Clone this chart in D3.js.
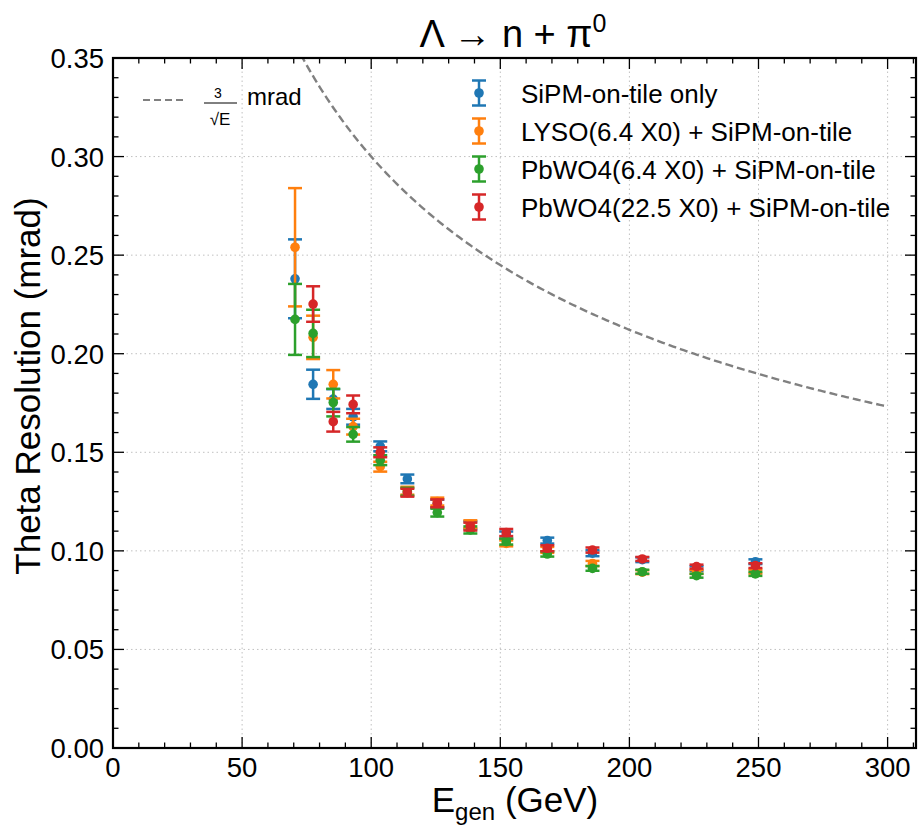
<!DOCTYPE html>
<html><head><meta charset="utf-8">
<script src="https://cdn.jsdelivr.net/npm/d3@7"></script>
<style>body{margin:0;background:#fff;} text{font-family:"Liberation Sans",Arial,sans-serif;}</style>
</head><body><svg id="c" width="918" height="830"></svg>
<script>
const energies = [70.5, 77.5, 85.3, 93, 103.5, 114, 125.6, 138.4, 152.3, 168.2, 185.7, 205, 226, 248.8];
const seriesNames = ["SiPM-on-tile only","LYSO(6.4 X0) + SiPM-on-tile","PbWO4(6.4 X0) + SiPM-on-tile","PbWO4(22.5 X0) + SiPM-on-tile"];
const seriesColors = ["#1f77b4","#ff7f0e","#2ca02c","#d62728"];
const blueVals  = [0.238,0.1845,0.177,0.168,0.153,0.1365,0.124,0.113,0.108,0.1052,0.0988,0.0955,0.091,0.0945];
const blueErr   = [0.020,0.0074,0.005,0.004,0.0025,0.0022,0.002,0.002,0.0018,0.0015,0.0015,0.0012,0.0012,0.0012];
const orangeVals= [0.254,0.2083,0.1845,0.163,0.1427,0.1305,0.125,0.1135,0.1038,0.1005,0.0936,0.0892,0.0893,0.0895];
const orangeErr = [0.030,0.011,0.0072,0.004,0.0025,0.002,0.002,0.002,0.0015,0.0015,0.0013,0.001,0.001,0.001];
const greenVals = [0.2174,0.2103,0.1752,0.1591,0.146,0.130,0.1194,0.1106,0.1047,0.0984,0.0911,0.0894,0.0874,0.0883];
const greenErr  = [0.018,0.012,0.007,0.0037,0.0025,0.002,0.002,0.0018,0.0015,0.0013,0.0012,0.001,0.001,0.001];
const redVals   = [null,0.2252,0.1655,0.1743,0.150,0.1295,0.1241,0.1123,0.1093,0.1013,0.1004,0.0959,0.092,0.0925];
const redErr    = [null,0.009,0.005,0.0045,0.0025,0.002,0.002,0.002,0.0018,0.0015,0.0013,0.001,0.001,0.0012];
const xTicks = [0,50,100,150,200,250,300];
const yTicks = [0,0.05,0.10,0.15,0.20,0.25,0.30,0.35];
const refCoef = 3; // 3/sqrt(E)

const svg = d3.select("#c");
const L=113, T=58, R=916, B=748;
const x = d3.scaleLinear().domain([0,311]).range([L,R]);
const y = d3.scaleLinear().domain([0,0.35]).range([B,T]);

// grid
const g = svg.append("g");
g.selectAll(".gx").data(xTicks.slice(1)).enter().append("line")
 .attr("x1",d=>x(d)).attr("x2",d=>x(d)).attr("y1",T).attr("y2",B)
 .attr("stroke","#c0c0c0").attr("stroke-width",1).attr("stroke-dasharray","1.5,3");
g.selectAll(".gy").data(yTicks.slice(1,-1)).enter().append("line")
 .attr("y1",d=>y(d)).attr("y2",d=>y(d)).attr("x1",L).attr("x2",R)
 .attr("stroke","#c0c0c0").attr("stroke-width",1).attr("stroke-dasharray","1.5,3");

svg.append("clipPath").attr("id","clip").append("rect").attr("x",L).attr("y",T).attr("width",R-L).attr("height",B-T);

// reference curve
const curveE = d3.range(20, 300.01, 1);
svg.append("path").attr("clip-path","url(#clip)")
 .attr("d", d3.line().x(d=>x(d)).y(d=>y(refCoef/Math.sqrt(d)))(curveE))
 .attr("fill","none").attr("stroke","#808080").attr("stroke-width",2.4).attr("stroke-dasharray","8,4");

// series
const series = [
 {vals:blueVals, err:blueErr},
 {vals:orangeVals, err:orangeErr},
 {vals:greenVals, err:greenErr},
 {vals:redVals, err:redErr}
];
series.forEach((s,i)=>{
  const col = seriesColors[i];
  const pts = energies.map((e,j)=>({e, v:s.vals[j], er:s.err[j]})).filter(p=>p.v!=null);
  const sg = svg.append("g");
  pts.forEach(p=>{
    sg.append("line").attr("x1",x(p.e)).attr("x2",x(p.e)).attr("y1",y(p.v+p.er)).attr("y2",y(p.v-p.er))
      .attr("stroke",col).attr("stroke-width",2.5);
    [p.v+p.er,p.v-p.er].forEach(cv=>{
      sg.append("line").attr("x1",x(p.e)-7).attr("x2",x(p.e)+7).attr("y1",y(cv)).attr("y2",y(cv))
        .attr("stroke",col).attr("stroke-width",2.5);
    });
    sg.append("circle").attr("cx",x(p.e)).attr("cy",y(p.v)).attr("r",4.8).attr("fill",col);
  });
});

// ticks inward on all sides
const ax = svg.append("g").attr("stroke","#000");
const xMinor = d3.range(0,311,10);
const yMinor = d3.range(0,0.3501,0.01);
xMinor.forEach(v=>{
  const len = xTicks.includes(v)?11:5.5;
  ax.append("line").attr("x1",x(v)).attr("x2",x(v)).attr("y1",B).attr("y2",B-len).attr("stroke-width",1.3);
  ax.append("line").attr("x1",x(v)).attr("x2",x(v)).attr("y1",T).attr("y2",T+len).attr("stroke-width",1.3);
});
yMinor.forEach(v=>{
  const major = Math.abs(Math.round(v*20)-v*20)<1e-6;
  const len = major?11:5.5;
  ax.append("line").attr("y1",y(v)).attr("y2",y(v)).attr("x1",L).attr("x2",L+len).attr("stroke-width",1.3);
  ax.append("line").attr("y1",y(v)).attr("y2",y(v)).attr("x1",R).attr("x2",R-len).attr("stroke-width",1.3);
});
svg.append("rect").attr("x",L).attr("y",T).attr("width",R-L).attr("height",B-T)
 .attr("fill","none").attr("stroke","#000").attr("stroke-width",2.2);

// tick labels
svg.selectAll(".xl").data(xTicks).enter().append("text")
 .attr("x",d=>x(d)).attr("y",777).attr("text-anchor","middle").attr("font-size",27.5).text(d=>d);
svg.selectAll(".yl").data(yTicks).enter().append("text")
 .attr("x",L-9).attr("y",d=>y(d)+10).attr("text-anchor","end").attr("font-size",27.5).text(d=>d.toFixed(2));

// axis titles
const xt = svg.append("text").attr("x",515).attr("y",812).attr("text-anchor","middle").attr("font-size",35);
xt.append("tspan").text("E");
xt.append("tspan").attr("font-size",24).attr("dy",8).text("gen");
xt.append("tspan").attr("dy",-8).text(" (GeV)");
svg.append("text").attr("transform","translate(40,386) rotate(-90)").attr("text-anchor","middle")
 .attr("font-size",35).text("Theta Resolution (mrad)");

// title
const tt = svg.append("text").attr("x",513).attr("y",47).attr("text-anchor","middle").attr("font-size",38);
tt.append("tspan").text("Λ → n + π");
tt.append("tspan").attr("font-size",25).attr("dy",-15).text("0");

// legend: reference curve
svg.append("line").attr("x1",143).attr("x2",184).attr("y1",100).attr("y2",100)
 .attr("stroke","#808080").attr("stroke-width",2).attr("stroke-dasharray","7,4");
svg.append("text").attr("x",218).attr("y",97.5).attr("text-anchor","middle").attr("font-size",14).text("3");
svg.append("line").attr("x1",204).attr("x2",237).attr("y1",103).attr("y2",103).attr("stroke","#000").attr("stroke-width",1);
svg.append("text").attr("x",220).attr("y",125).attr("text-anchor","middle").attr("font-size",17).text("√E");
svg.append("text").attr("x",247).attr("y",105).attr("font-size",24).text("mrad");

// legend: series
const ly = [93, 131, 169, 207];
seriesNames.forEach((n,i)=>{
  const col = seriesColors[i], cx=479, cy=ly[i];
  svg.append("line").attr("x1",cx).attr("x2",cx).attr("y1",cy-12.5).attr("y2",cy+12.5).attr("stroke",col).attr("stroke-width",2.5);
  [cy-12.5,cy+12.5].forEach(v=>svg.append("line").attr("x1",cx-7).attr("x2",cx+7).attr("y1",v).attr("y2",v).attr("stroke",col).attr("stroke-width",2.5));
  svg.append("circle").attr("cx",cx).attr("cy",cy).attr("r",4.8).attr("fill",col);
  svg.append("text").attr("x",521).attr("y",cy+9.5).attr("font-size",26).text(n);
});
</script></body></html>
